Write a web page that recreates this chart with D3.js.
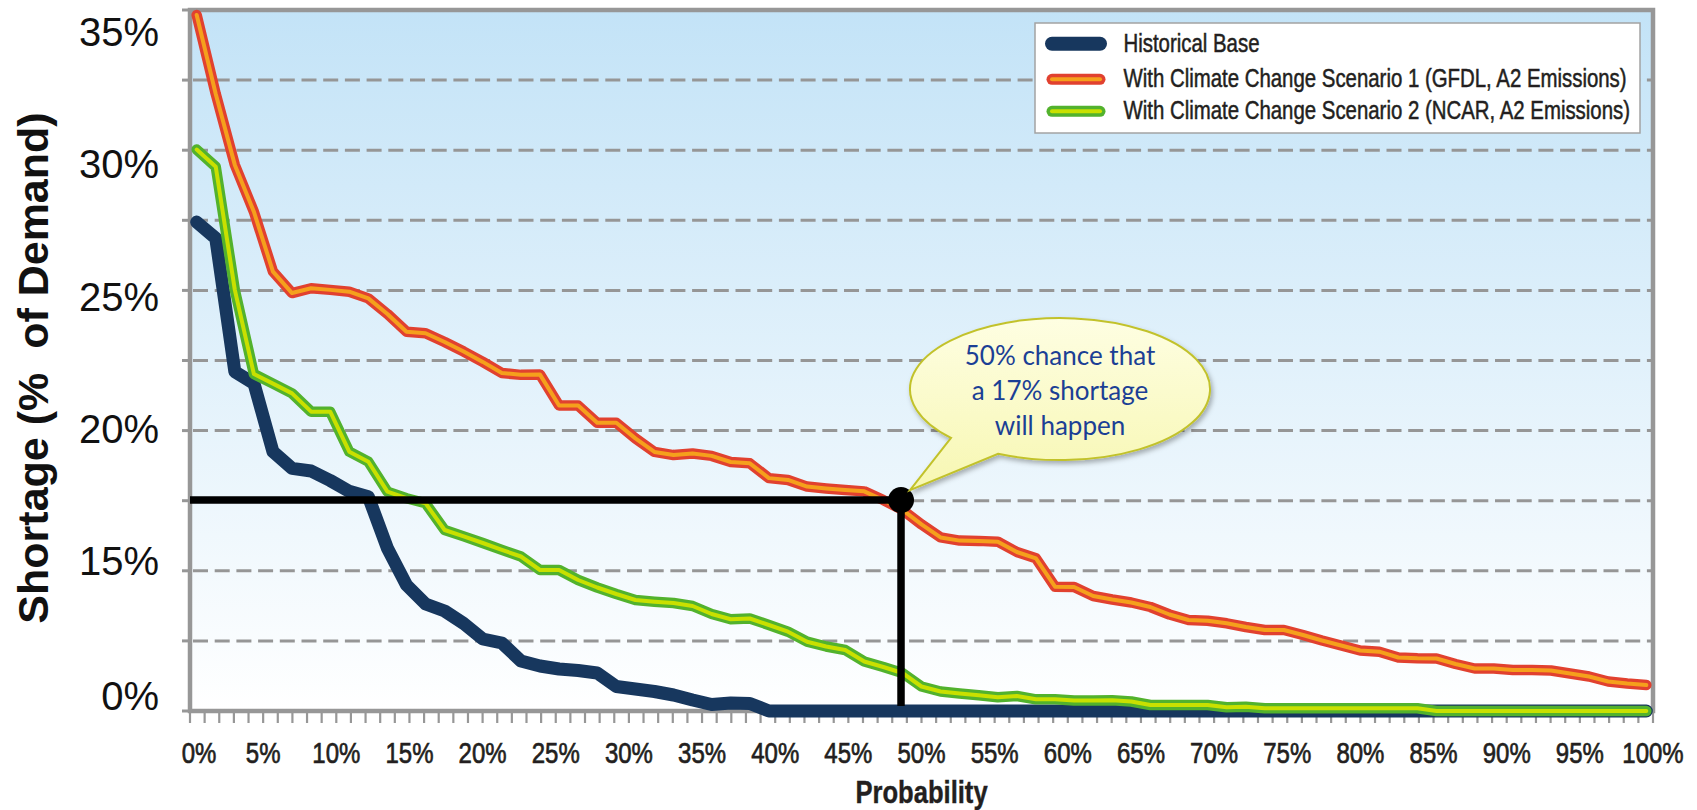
<!DOCTYPE html>
<html>
<head>
<meta charset="utf-8">
<script src="https://cdn.jsdelivr.net/npm/d3@7"></script>
<style>
  html, body { margin: 0; padding: 0; background: #ffffff; }
  svg { display: block; }
</style>
</head>
<body>
<svg id="chart" width="1697" height="810"></svg>
<script>
// Shortage-frequency curves: shortage (% of demand) against the probability of it occurring.
// Each series holds one value per plotting position, evenly spaced across 0–100 %.

const seriesNames = [
  "Historical Base",
  "With Climate Change Scenario 1 (GFDL, A2 Emissions)",
  "With Climate Change Scenario 2 (NCAR, A2 Emissions)"
];

const historicalBase = [
  27.80, 27.19, 22.15, 21.71, 19.13, 18.50, 18.40, 18.04, 17.63, 17.43,
  15.48, 12.60, 10.70, 10.00, 8.75, 7.20, 6.80, 5.00, 4.50, 4.20,
  4.05, 3.80, 2.45, 2.20, 1.95, 1.60, 1.10, 0.65, 0.80, 0.75,
  0, 0, 0, 0, 0, 0, 0, 0, 0, 0,
  0, 0, 0, 0, 0, 0, 0, 0, 0, 0,
  0, 0, 0, 0, 0, 0, 0, 0, 0, 0,
  0, 0, 0, 0, 0, 0, 0, 0, 0, 0,
  0, 0, 0, 0, 0, 0, 0
];

const scenarioGFDL = [
  35.62, 32.64, 29.96, 28.19, 25.93, 25.12, 25.30, 25.24, 25.17, 24.92,
  24.33, 23.66, 23.60, 23.27, 22.91, 22.52, 22.10, 22.03, 22.04, 20.87,
  20.87, 20.22, 20.22, 19.63, 19.12, 19.00, 19.06, 18.97, 18.74, 18.69,
  18.13, 18.06, 17.81, 17.74, 17.68, 17.63, 17.30, 16.93, 16.38, 15.89,
  15.77, 15.76, 15.73, 15.34, 15.10, 12.43, 12.40, 11.50, 11.15, 10.85,
  10.40, 9.65, 9.10, 9.03, 8.77, 8.40, 8.10, 8.10, 7.60, 7.05,
  6.55, 6.05, 5.93, 5.35, 5.27, 5.25, 4.70, 4.25, 4.25, 4.10,
  4.10, 4.05, 3.75, 3.45, 2.95, 2.75, 2.60
];

const scenarioNCAR = [
  30.54, 29.89, 25.24, 22.06, 21.70, 21.33, 20.64, 20.64, 19.13, 18.75,
  17.62, 17.37, 17.18, 16.17, 15.93, 15.68, 15.42, 15.17, 14.10, 14.10,
  13.10, 12.35, 11.70, 11.10, 10.93, 10.80, 10.50, 9.70, 9.17, 9.25,
  8.60, 7.93, 6.93, 6.45, 6.10, 4.95, 4.40, 3.80, 2.45, 1.95,
  1.75, 1.57, 1.37, 1.50, 1.17, 1.17, 1.05, 1.05, 1.07, 0.95,
  0.60, 0.60, 0.60, 0.60, 0.37, 0.43, 0.27, 0.27, 0.27, 0.27,
  0.27, 0.27, 0.27, 0.27, 0.27, 0, 0, 0, 0, 0,
  0, 0, 0, 0, 0, 0, 0
];

const xTickValues = [0, 5, 10, 15, 20, 25, 30, 35, 40, 45, 50, 55, 60, 65, 70, 75, 80, 85, 90, 95, 100];
const yTickValues = [0, 15, 20, 25, 30, 35];

// Reference point picked out on the GFDL curve
const markerProbability = 48.6;
const markerShortage = 17.3;
const calloutLines = ["50% chance that", "a 17% shortage", "will happen"];

// ---------------------------------------------------------------- layout
const svg = d3.select("#chart");
const margin = { left: 190, top: 10, right: 44, bottom: 99 };
const W = 1697 - margin.left - margin.right;   // 1463
const H = 810 - margin.top - margin.bottom;    // 701

const sans = '"Liberation Sans", Arial, sans-serif';
const inkDark = "#231f20";
const frameGray = "#979797";
const condense = 0.8;   // horizontal squeeze giving a condensed face

// condensed label: a text squeezed horizontally about its anchor point
function condensedText(parent, px, py, str, opts) {
  const o = Object.assign({ size: 30, anchor: "middle", weight: "normal", fill: inkDark, stroke: 0.35 }, opts);
  const grp = parent.append("g").attr("transform", `translate(${px},${py}) scale(${condense},1)`);
  grp.append("text")
    .attr("text-anchor", o.anchor)
    .attr("font-family", sans).attr("font-size", o.size).attr("font-weight", o.weight)
    .attr("fill", o.fill)
    .attr("stroke", o.fill).attr("stroke-width", o.stroke)
    .text(str);
  return grp;
}

const x = d3.scaleLinear().domain([0, 100]).range([0, W]);
const xPos = d3.scalePoint()
  .domain(d3.range(historicalBase.length))
  .range([0, W])
  .padding(0.35);
const y = d3.scaleLinear().domain([0, 15, 35.81]).range([H, H - 150, 0]);
const gridScale = d3.scaleLinear().domain([0, 10]).range([H, 0]);

const defs = svg.append("defs");
const bg = defs.append("linearGradient").attr("id", "plotBg")
  .attr("x1", 0).attr("y1", 0).attr("x2", 0).attr("y2", 1);
bg.append("stop").attr("offset", "0%").attr("stop-color", "#c3e3f7");
bg.append("stop").attr("offset", "100%").attr("stop-color", "#ffffff");

const bubbleFill = defs.append("linearGradient").attr("id", "bubbleFill")
  .attr("x1", 0).attr("y1", 0).attr("x2", 0).attr("y2", 1);
bubbleFill.append("stop").attr("offset", "0%").attr("stop-color", "#fefee2");
bubbleFill.append("stop").attr("offset", "100%").attr("stop-color", "#f7f7b2");

const shadow = defs.append("filter").attr("id", "bubbleShadow")
  .attr("x", "-20%").attr("y", "-20%").attr("width", "140%").attr("height", "150%");
shadow.append("feDropShadow").attr("dx", 2).attr("dy", 3).attr("stdDeviation", 2.5)
  .attr("flood-color", "#000").attr("flood-opacity", 0.3);

const g = svg.append("g").attr("transform", `translate(${margin.left},${margin.top})`);

// plot background
g.append("rect").attr("width", W).attr("height", H).attr("fill", "url(#plotBg)");

// dashed horizontal gridlines
g.append("g").selectAll("line")
  .data(d3.range(1, 10))
  .join("line")
  .attr("x1", 3).attr("x2", W)
  .attr("y1", d => gridScale(d)).attr("y2", d => gridScale(d))
  .attr("stroke", "#969696").attr("stroke-width", 3)
  .attr("stroke-dasharray", "15,6.7");

// left tick marks
g.append("g").selectAll("line")
  .data(d3.range(0, 11))
  .join("line")
  .attr("x1", -8).attr("x2", 0)
  .attr("y1", d => gridScale(d)).attr("y2", d => gridScale(d))
  .attr("stroke", frameGray).attr("stroke-width", 3);

// bottom tick marks, one per percent
g.append("g").selectAll("line")
  .data(d3.range(0, 101))
  .join("line")
  .attr("x1", d => x(d)).attr("x2", d => x(d))
  .attr("y1", H).attr("y2", H + 12)
  .attr("stroke", frameGray).attr("stroke-width", 2.2);

// plot frame
g.append("rect").attr("width", W).attr("height", H)
  .attr("fill", "none").attr("stroke", frameGray).attr("stroke-width", 4.5);

// x tick labels
const xLabels = g.append("g");
xTickValues.forEach(v => {
  condensedText(xLabels, x(v) + (v === 0 ? 9 : 0), H + 52, v + "%", { size: 30, stroke: 0.7 });
});

// y tick labels
g.append("g").selectAll("text")
  .data(yTickValues)
  .join("text")
  .attr("x", -31)
  .attr("y", d => Math.min(y(d), H - 15))
  .attr("dy", "0.36em")
  .attr("text-anchor", "end")
  .attr("font-family", sans).attr("font-size", 40)
  .attr("fill", "#111")
  .text(d => d + "%");

// axis titles
svg.append("text")
  .attr("transform", "translate(48,368) rotate(-90)")
  .attr("text-anchor", "middle")
  .attr("font-family", sans).attr("font-weight", "bold").attr("font-size", 43)
  .attr("fill", "#111")
  .style("white-space", "pre")
  .text("Shortage (%  of Demand)");

condensedText(svg, margin.left + W / 2, 803, "Probability", { size: 32, weight: "bold", stroke: 0.4 });

// ---------------------------------------------------------------- series
const line = d3.line().x((d, i) => xPos(i)).y(d => y(d));

const lines = g.append("g").attr("fill", "none")
  .attr("stroke-linejoin", "round").attr("stroke-linecap", "round");

lines.append("path").datum(historicalBase)
  .attr("d", line).attr("stroke", "#17375e").attr("stroke-width", 13);

lines.append("path").datum(scenarioNCAR)
  .attr("d", line).attr("stroke", "#52b22d").attr("stroke-width", 10.5);
lines.append("path").datum(scenarioNCAR)
  .attr("d", line).attr("stroke", "#c9e000").attr("stroke-width", 4);

lines.append("path").datum(scenarioGFDL)
  .attr("d", line).attr("stroke", "#e1412f").attr("stroke-width", 10.5);
lines.append("path").datum(scenarioGFDL)
  .attr("d", line).attr("stroke", "#f5a01c").attr("stroke-width", 4);

// ---------------------------------------------------------------- reference marker
const mx = x(markerProbability);
const my = y(markerShortage);

g.append("line")
  .attr("x1", x(0)).attr("x2", mx).attr("y1", my).attr("y2", my)
  .attr("stroke", "#000").attr("stroke-width", 7.5);
g.append("line")
  .attr("x1", mx).attr("x2", mx).attr("y1", my).attr("y2", y(0) - 5)
  .attr("stroke", "#000").attr("stroke-width", 7.5);
g.append("circle").attr("cx", mx).attr("cy", my).attr("r", 13).attr("fill", "#000");

// speech bubble pointing at the marker
const bcx = mx + 159, bcy = my - 111, brx = 150, bry = 71;
const tipX = mx + 9, tipY = my - 10;
const ang1 = 136.6 * Math.PI / 180, ang2 = 114.4 * Math.PI / 180;
const ax = bcx + brx * Math.cos(ang1), ay = bcy + bry * Math.sin(ang1);
const bx = bcx + brx * Math.cos(ang2), by = bcy + bry * Math.sin(ang2);
const bubblePath = `M${ax},${ay} L${tipX},${tipY} L${bx},${by} A${brx},${bry} 0 1 0 ${ax},${ay} Z`;

g.append("path")
  .attr("d", bubblePath)
  .attr("fill", "url(#bubbleFill)")
  .attr("stroke", "#c2c22c").attr("stroke-width", 2)
  .attr("filter", "url(#bubbleShadow)");

g.append("g").selectAll("text")
  .data(calloutLines)
  .join("text")
  .attr("x", bcx)
  .attr("y", (d, i) => bcy - 24 + i * 35)
  .attr("text-anchor", "middle")
  .attr("font-family", "Lato, 'Open Sans', sans-serif").attr("font-size", 26)
  .attr("fill", "#1b3f95")
  .text(d => d);

// ---------------------------------------------------------------- legend
const legend = svg.append("g").attr("transform", "translate(1035,23)");
legend.append("rect").attr("width", 605).attr("height", 110)
  .attr("fill", "#ffffff").attr("stroke", "#a3a3a3").attr("stroke-width", 1.5);

const legendItems = [
  { name: seriesNames[0], strokes: [["#17375e", 14]] },
  { name: seriesNames[1], strokes: [["#e1412f", 11], ["#f5a01c", 4]] },
  { name: seriesNames[2], strokes: [["#52b22d", 11], ["#c9e000", 4]] }
];
const legendBaselines = [28.7, 64.3, 96.3];

legendItems.forEach((item, i) => {
  const row = legend.append("g").attr("transform", `translate(0,${legendBaselines[i]})`);
  item.strokes.forEach(([color, width]) => {
    row.append("line")
      .attr("x1", 17).attr("x2", 65).attr("y1", -8).attr("y2", -8)
      .attr("stroke", color).attr("stroke-width", width).attr("stroke-linecap", "round");
  });
  condensedText(row, 88.5, 0, item.name, { size: 25.5, anchor: "start", stroke: 0.5 });
});
</script>
</body>
</html>
